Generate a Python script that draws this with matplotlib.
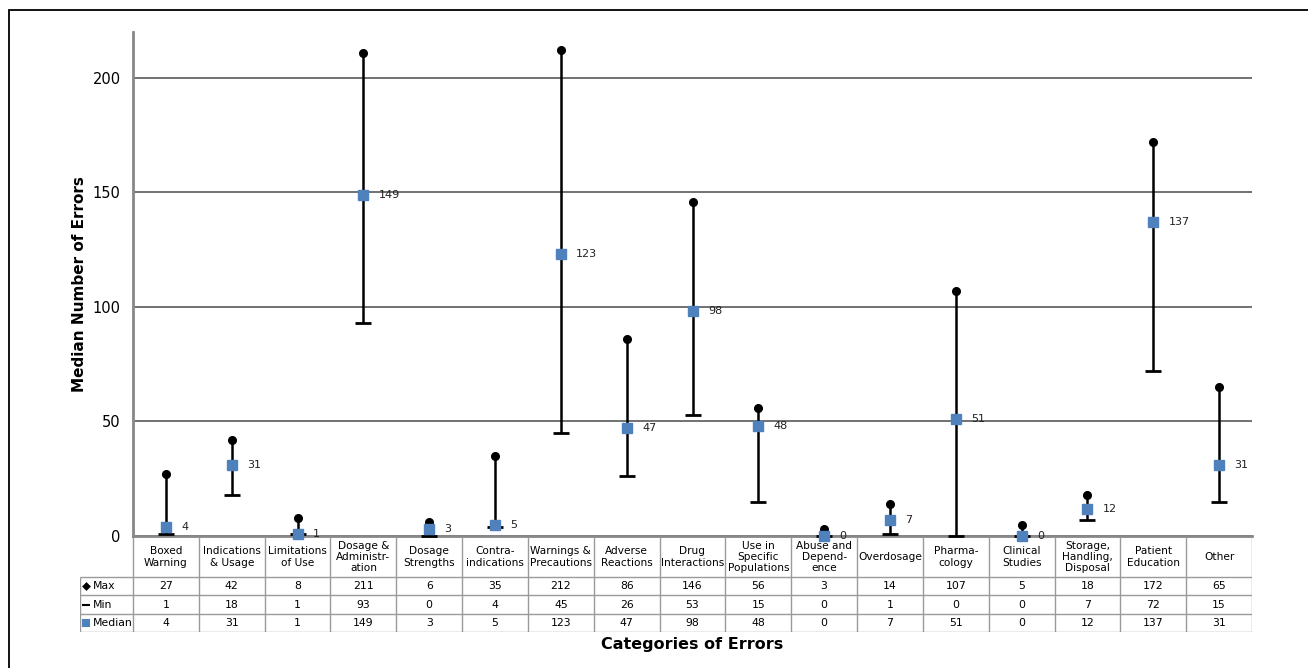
import matplotlib.pyplot as plt
from matplotlib.patches import Rectangle

plt.rcParams['font.family'] = 'DejaVu Sans'

cats = ['Boxed\nWarning', 'Indications\n& Usage', 'Limitations\nof Use', 'Dosage &\nAdministr-\nation',
        'Dosage\nStrengths', 'Contra-\nindications', 'Warnings &\nPrecautions', 'Adverse\nReactions',
        'Drug\nInteractions', 'Use in\nSpecific\nPopulations', 'Abuse and\nDepend-\nence', 'Overdosage',
        'Pharma-\ncology', 'Clinical\nStudies', 'Storage,\nHandling,\nDisposal', 'Patient\nEducation', 'Other']
max_v = [27, 42, 8, 211, 6, 35, 212, 86, 146, 56, 3, 14, 107, 5, 18, 172, 65]
min_v = [1, 18, 1, 93, 0, 4, 45, 26, 53, 15, 0, 1, 0, 0, 7, 72, 15]
med_v = [4, 31, 1, 149, 3, 5, 123, 47, 98, 48, 0, 7, 51, 0, 12, 137, 31]

W, H = 1308, 668
blue = '#4F81BD'
grid_c = '#595959'
tab_c = '#9a9a9a'

fig = plt.figure(figsize=(W / 100, H / 100), dpi=100)

# outer frame (only top/left visible in the reference)
fig.patches.append(Rectangle((9 / W, -0.1), 1.2, 1 - 10 / H + 0.1, transform=fig.transFigure,
                             fill=False, ec='black', lw=1.3))

x0, x1, y_top, y_zero = 133, 1252, 32, 536
ax = fig.add_axes([x0 / W, 1 - y_zero / H, (x1 - x0) / W, (y_zero - y_top) / H])
n = len(cats)
xs = list(range(n))

ax.set_xlim(-0.5, n - 0.5)
ax.set_ylim(0, 220)
ax.set_yticks([0, 50, 100, 150, 200])
ax.yaxis.grid(True, color=grid_c, lw=1.2)
ax.set_axisbelow(True)
ax.tick_params(axis='y', length=0, pad=9, labelsize=10.5)
ax.set_xticks([])
for s in ['top', 'right']:
    ax.spines[s].set_visible(False)
for s in ['left', 'bottom']:
    ax.spines[s].set_color('#888888')
    ax.spines[s].set_linewidth(2)

ax.vlines(xs, min_v, max_v, color='black', lw=1.8, zorder=3)
ax.plot(xs, min_v, ls='none', marker='_', ms=12, mew=2, color='black', zorder=3, clip_on=False)
ax.plot(xs, max_v, ls='none', marker='o', ms=5.5, color='black', zorder=4, clip_on=False)
ax.plot(xs, med_v, ls='none', marker='s', ms=6.5, color=blue, zorder=5, clip_on=False)
for x, m in zip(xs, med_v):
    ax.annotate(str(m), (x, m), xytext=(11, 0), textcoords='offset points',
                va='center', ha='left', fontsize=8, color='#222222')

ax.set_ylabel('Median Number of Errors', fontsize=11, fontweight='bold', labelpad=4)

# data table
lab_x = 80
t_top, t_hdr, t_bot = 537, 577, 632
tax = fig.add_axes([lab_x / W, 1 - t_bot / H, (x1 - lab_x) / W, (t_bot - t_top) / H])
colw = (x1 - x0) / n
lab_w = (x0 - lab_x) / colw
tax.set_xlim(-0.5 - lab_w, n - 0.5)
tax.set_ylim(t_bot - t_top, 0)
tax.axis('off')

row_h = (t_bot - t_hdr) / 3
hdr_h = t_hdr - t_top
lines_y = [hdr_h + i * row_h for i in range(4)]
tax.hlines(lines_y, -0.5 - lab_w, n - 0.5, color=tab_c, lw=1)
for i in range(n + 1):
    tax.vlines(i - 0.5, 0, t_bot - t_top, color=tab_c, lw=1)
tax.vlines(-0.5 - lab_w, hdr_h, t_bot - t_top, color=tab_c, lw=1)

for i, c in enumerate(cats):
    tax.text(i, hdr_h / 2, c, ha='center', va='center', fontsize=7.6, linespacing=1.15)
rows = [max_v, min_v, med_v]
for r, vals in enumerate(rows):
    yc = hdr_h + (r + 0.5) * row_h
    for i, v in enumerate(vals):
        tax.text(i, yc, str(v), ha='center', va='center', fontsize=7.8)

lx = -0.5 - lab_w + 0.09
labels = ['Max', 'Min', 'Median']
markers = ['D', '_', 's']
msz = [3, 6, 5]
mcol = ['black', 'black', blue]
for r in range(3):
    yc = hdr_h + (r + 0.5) * row_h
    tax.plot([lx], [yc], marker=markers[r], ms=msz[r], color=mcol[r], mew=1.5, ls='none')
    tax.text(lx + 0.1, yc, labels[r], ha='left', va='center', fontsize=7.8)

fig.text((x0 + x1) / 2 / W, 1 - 645 / H, 'Categories of Errors', ha='center', va='center',
         fontsize=11.5, fontweight='bold')

fig.savefig('out.png', dpi=100)
